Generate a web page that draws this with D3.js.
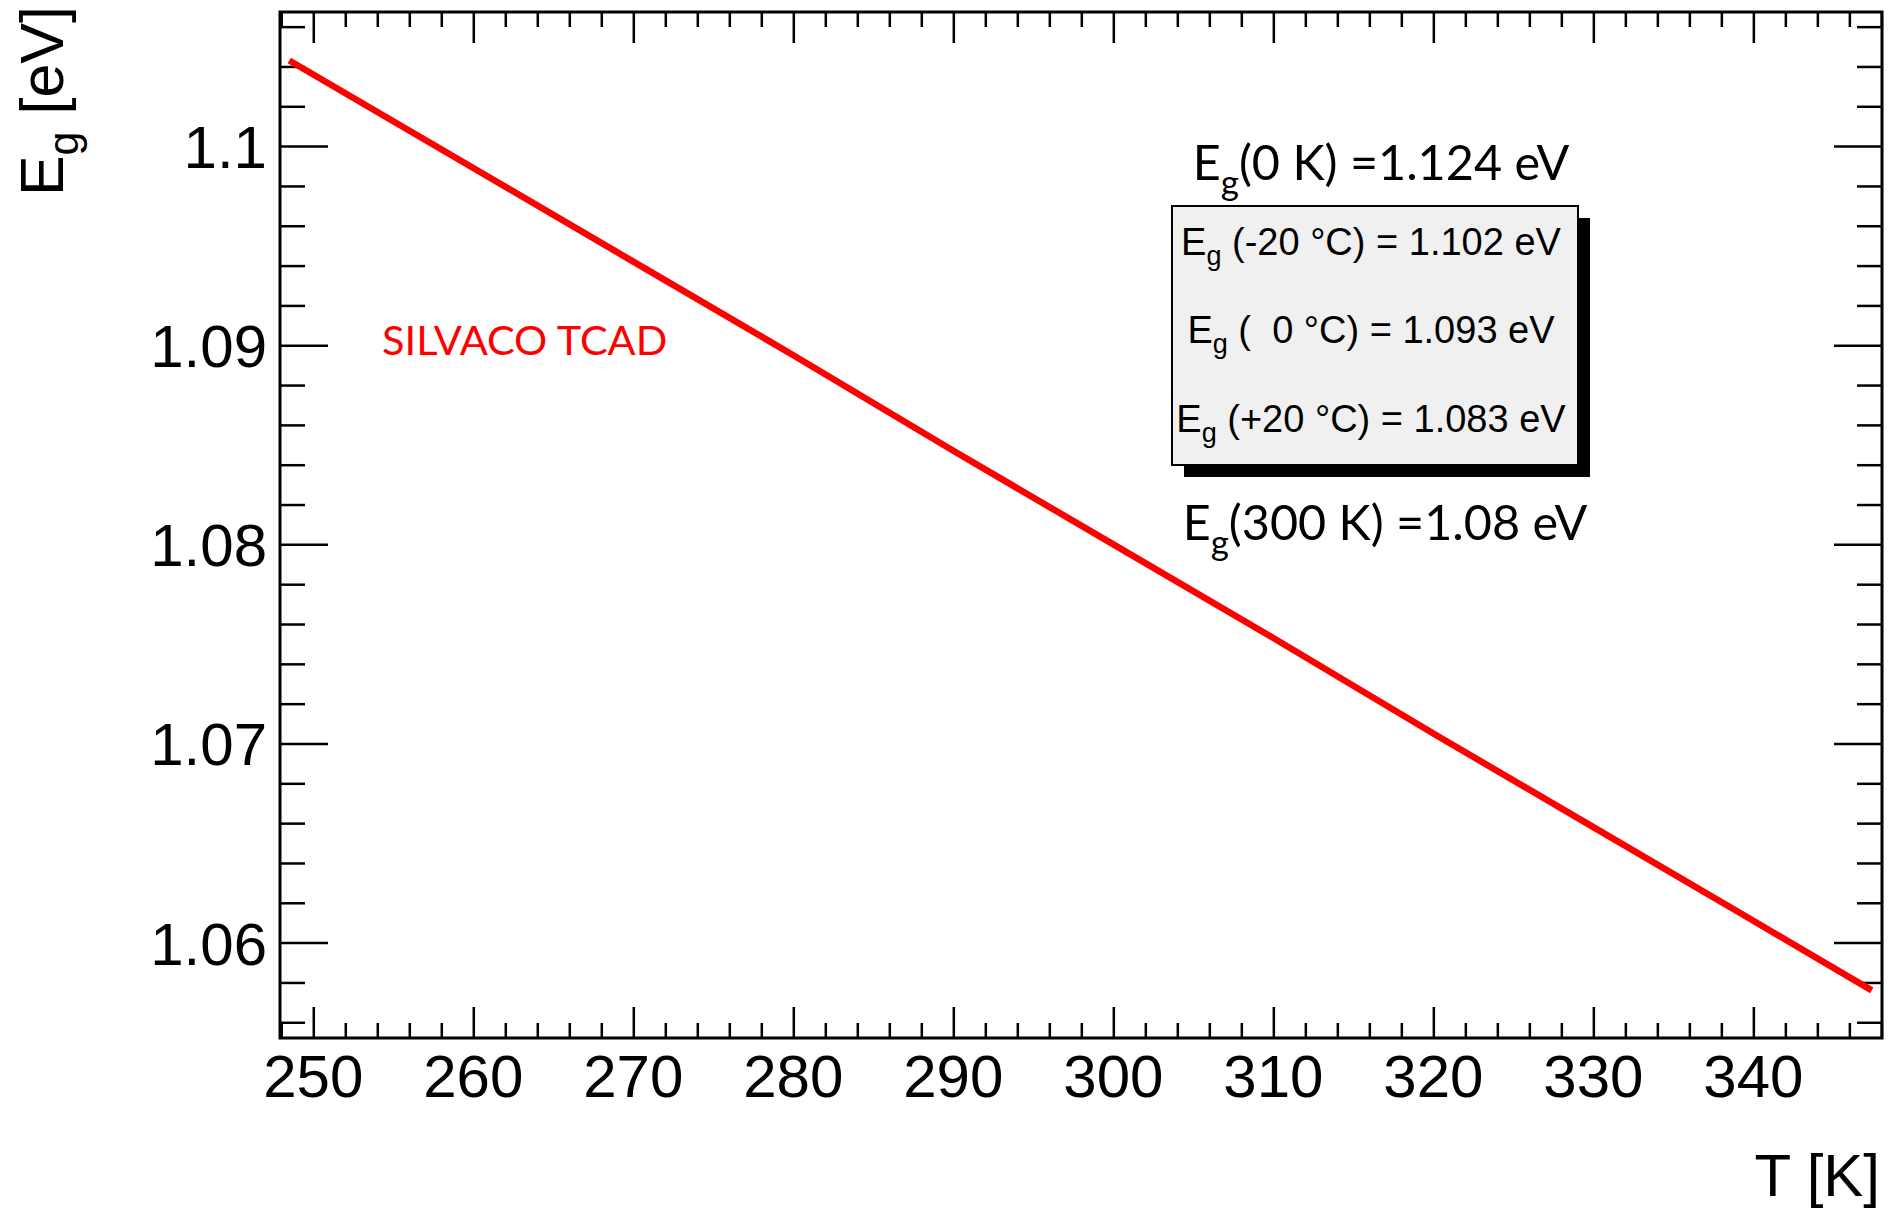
<!DOCTYPE html>
<html>
<head>
<meta charset="utf-8">
<script src="https://cdn.jsdelivr.net/npm/d3@7"></script>
<style>
  body { margin: 0; background: #fff; }
  svg { display: block; }
  .tick line { stroke: #000; stroke-width: 2.5; }
  .tick text { font-family: "Liberation Sans", Helvetica, Arial, sans-serif; fill: #000; }
</style>
</head>
<body>
<div id="chart"></div>
<script>
// values (T in K, band gap in eV)
var temps = [248.5, 260, 270, 280, 290, 300, 310, 320, 330, 340, 347.4];
var egap  = [1.1043, 1.0989, 1.0942, 1.0895, 1.0847, 1.0800, 1.0753, 1.0705, 1.0658, 1.0611, 1.0576];

var xMajor = [250, 260, 270, 280, 290, 300, 310, 320, 330, 340];
var yMajor = [1.06, 1.07, 1.08, 1.09, 1.1];
var yMajorLabels = ["1.06", "1.07", "1.08", "1.09", "1.1"];

var boxLines = [
  ["(-20 °C) = 1.102 eV"],
  ["(  0 °C) = 1.093 eV"],
  ["(+20 °C) = 1.083 eV"]
];

var W = 1894, H = 1212;
var frame = {left: 280, top: 12, right: 1882, bottom: 1038};

var svg = d3.select("#chart").append("svg")
    .attr("width", W)
    .attr("height", H);

var x = d3.scaleLinear().domain([247.92, 348.04]).range([frame.left, frame.right]);
var y = d3.scaleLinear().domain([1.05521, 1.106735]).range([frame.bottom, frame.top]);

// minor ticks
var xMinor = d3.range(248, 348.01, 2).filter(function(v) { return v % 10 !== 0; });
var yMinor = d3.range(1056, 1106.5, 2).map(function(v) { return v / 1000; })
    .filter(function(v) { return Math.round(v * 1000) % 10 !== 0; });

function addAxis(axisFn, scale, pos, ticks, size, fmt) {
  var g = svg.append("g")
      .attr("transform", pos)
      .call(axisFn(scale).tickValues(ticks).tickSize(size).tickFormat(fmt || ""));
  g.select(".domain").remove();
  return g;
}

// bottom & top ticks (drawn inward)
addAxis(d3.axisBottom, x, "translate(0," + frame.bottom + ")", xMinor, -15);
addAxis(d3.axisBottom, x, "translate(0," + frame.bottom + ")", xMajor, -31);
addAxis(d3.axisTop, x, "translate(0," + frame.top + ")", xMinor, -15);
addAxis(d3.axisTop, x, "translate(0," + frame.top + ")", xMajor, -31);

// left & right ticks
addAxis(d3.axisLeft, y, "translate(" + frame.left + ",0)", yMinor, -25);
addAxis(d3.axisLeft, y, "translate(" + frame.left + ",0)", yMajor, -48);
addAxis(d3.axisRight, y, "translate(" + frame.right + ",0)", yMinor, -25);
addAxis(d3.axisRight, y, "translate(" + frame.right + ",0)", yMajor, -48);

// tick labels
svg.append("g").selectAll("text")
  .data(xMajor)
  .enter().append("text")
    .attr("x", function(d) { return x(d); })
    .attr("y", 1097)
    .attr("text-anchor", "middle")
    .attr("font-family", "Liberation Sans, Helvetica, Arial, sans-serif")
    .attr("font-size", 60)
    .text(function(d) { return d; });

svg.append("g").selectAll("text")
  .data(yMajor)
  .enter().append("text")
    .attr("x", 267)
    .attr("y", function(d) { return y(d) + 22; })
    .attr("text-anchor", "end")
    .attr("font-family", "Liberation Sans, Helvetica, Arial, sans-serif")
    .attr("font-size", 60)
    .text(function(d, i) { return yMajorLabels[i]; });

// frame
svg.append("rect")
    .attr("x", frame.left)
    .attr("y", frame.top)
    .attr("width", frame.right - frame.left)
    .attr("height", frame.bottom - frame.top)
    .attr("fill", "none")
    .attr("stroke", "#000")
    .attr("stroke-width", 3);

// the curve
var line = d3.line()
    .x(function(d, i) { return x(temps[i]); })
    .y(function(d) { return y(d); });

svg.append("path")
    .datum(egap)
    .attr("d", line)
    .attr("fill", "none")
    .attr("stroke", "#ff0000")
    .attr("stroke-width", 6.5);

// axis titles
svg.append("text")
    .attr("x", 1880)
    .attr("y", 1196)
    .attr("text-anchor", "end")
    .attr("font-family", "Liberation Sans, Helvetica, Arial, sans-serif")
    .attr("font-size", 60)
    .text("T [K]");

var yt = svg.append("text")
    .attr("transform", "translate(63,6) rotate(-90)")
    .attr("text-anchor", "end")
    .attr("font-family", "Liberation Sans, Helvetica, Arial, sans-serif")
    .attr("font-size", 61);
yt.append("tspan").text("E");
yt.append("tspan").attr("font-size", 43).attr("dy", 15).text("g");
yt.append("tspan").attr("dy", -15).text(" [eV]");

// Calibri-ish annotations
var calibri = "Lato, 'Open Sans', sans-serif";

function subLabel(px, py, pre, sub, post, size, color, anchor) {
  var t = svg.append("text")
      .attr("x", px)
      .attr("y", py)
      .attr("text-anchor", anchor || "start")
      .attr("font-family", calibri)
      .attr("font-size", size)
      .attr("fill", color || "#000");
  t.append("tspan").text(pre);
  if (sub) {
    t.append("tspan").attr("font-size", size * 0.72).attr("dy", size * 0.3).text(sub);
    t.append("tspan").attr("dy", -size * 0.3).text(post);
  }
  return t;
}

subLabel(382, 355, "SILVACO TCAD", null, null, 41.5, "#ff0000");
subLabel(1381, 180, "E", "g", "(0 K) =1.124 eV", 48.5, "#000", "middle");
subLabel(1385, 540, "E", "g", "(300 K) =1.08 eV", 48.5, "#000", "middle");

// text box with shadow
var box = {x: 1172, y: 206, w: 406, h: 259};
svg.append("rect")
    .attr("x", box.x + 12).attr("y", box.y + 12)
    .attr("width", box.w).attr("height", box.h)
    .attr("fill", "#000");
svg.append("rect")
    .attr("x", box.x).attr("y", box.y)
    .attr("width", box.w).attr("height", box.h)
    .attr("fill", "#f0f0f0")
    .attr("stroke", "#000")
    .attr("stroke-width", 2);

var rowBase = [255, 343, 432];
boxLines.forEach(function(r, i) {
  var t = svg.append("text")
      .attr("x", box.x + box.w / 2 - 4)
      .attr("y", rowBase[i])
      .attr("text-anchor", "middle")
      .attr("font-family", "Liberation Sans, Helvetica, Arial, sans-serif")
      .attr("font-size", 38)
      .style("white-space", "pre");
  t.append("tspan").text("E");
  t.append("tspan").attr("font-size", 27).attr("dy", 10).text("g");
  t.append("tspan").attr("dy", -10).text(" " + r[0]);
});
</script>
</body>
</html>
